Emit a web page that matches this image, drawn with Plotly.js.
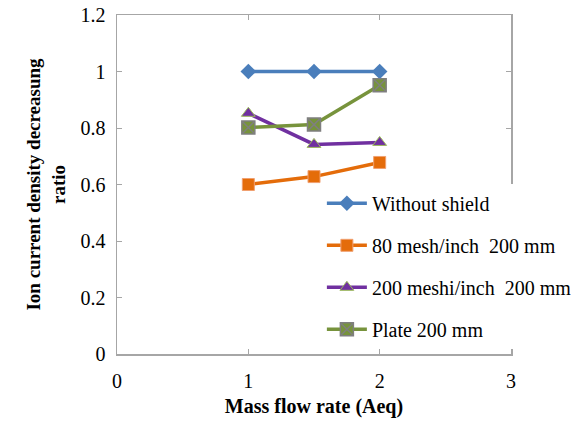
<!DOCTYPE html>
<html>
<head>
<meta charset="utf-8">
<script src="https://cdn.plot.ly/plotly-3.0.1.min.js"></script>
<style>html,body{margin:0;padding:0;background:#fff;}#chart{width:578px;height:425px;}</style>
</head>
<body>
<div id="chart"></div>
<script>
const massFlow = [1, 1.5, 2];
const withoutShield = [1.0, 1.0, 1.0];
const mesh80 = [0.60, 0.628, 0.678];
const mesh200 = [0.852, 0.742, 0.749];
const plate200 = [0.802, 0.812, 0.951];
const seriesNames = ["Without shield", "80 mesh/inch  200 mm", "200 meshi/inch  200 mm", "Plate 200 mm"];
const xTicks = [0, 1, 2, 3];
const yTicks = [0, 0.2, 0.4, 0.6, 0.8, 1, 1.2];

const font = "'Liberation Serif', 'Times New Roman', serif";
const traces = [
  {x: massFlow, y: withoutShield, name: seriesNames[0], legendgroup: "a", mode: "lines+markers",
   line: {color: "#4a7ebb", width: 3.5}, marker: {symbol: "diamond", size: 12, color: "#4a7ebb"}},
  {x: massFlow, y: mesh80, name: seriesNames[1], legendgroup: "b", mode: "lines+markers",
   line: {color: "#e46c0a", width: 3.5}, marker: {symbol: "square", size: 12, color: "#e46c0a", line: {color: "#f0a070", width: 1}}},
  {x: massFlow, y: mesh200, name: seriesNames[2], legendgroup: "c", mode: "lines+markers",
   line: {color: "#7030a0", width: 3.5}, marker: {symbol: "triangle-up", size: 12, color: "#7030a0", line: {color: "#9bbb59", width: 1}}},
  {x: massFlow, y: plate200, name: seriesNames[3], legendgroup: "d", mode: "lines+markers",
   line: {color: "#77933c", width: 3.5}, marker: {symbol: "square-x", size: 13, color: "#77933c", line: {color: "#7f7f7f", width: 1.5}}}
];

const layout = {
  width: 578, height: 425,
  margin: {l: 117, r: 67, t: 15, b: 71, autoexpand: false},
  paper_bgcolor: "#fff", plot_bgcolor: "#fff",
  font: {family: font, size: 20, color: "#000"},
  showlegend: true,
  legend: {x: 0.52, y: 0.502, xanchor: "left", yanchor: "top", bgcolor: "#fff",
           font: {family: font, size: 20, color: "#000"}, tracegroupgap: 13, itemwidth: 40},
  xaxis: {range: [0, 3], tickvals: xTicks, ticktext: xTicks.map(String), showgrid: false, zeroline: false, automargin: false,
          showline: true, linecolor: "#a6a6a6", linewidth: 1.5, mirror: "ticks", ticks: "inside",
          ticklen: 5, tickcolor: "#a6a6a6", tickfont: {family: font, size: 20}, ticklabelstandoff: 8,
          title: {text: "<b>Mass flow rate (Aeq)</b>", font: {family: font, size: 20}, standoff: 8}},
  yaxis: {range: [0, 1.2], tickvals: yTicks, ticktext: ["0","0.2","0.4","0.6","0.8","1","1.2"], showgrid: false, zeroline: false, automargin: false,
          showline: true, linecolor: "#a6a6a6", linewidth: 1.5, mirror: "ticks", ticks: "inside",
          ticklen: 5, tickcolor: "#a6a6a6", tickfont: {family: font, size: 20}, ticklabelstandoff: 6,
          title: {text: "<b>Ion current density decreasung<br>ratio</b>", font: {family: font, size: 19}, standoff: 10}}
};
Plotly.newPlot("chart", traces, layout, {displayModeBar: false, staticPlot: true});
</script>
</body>
</html>
